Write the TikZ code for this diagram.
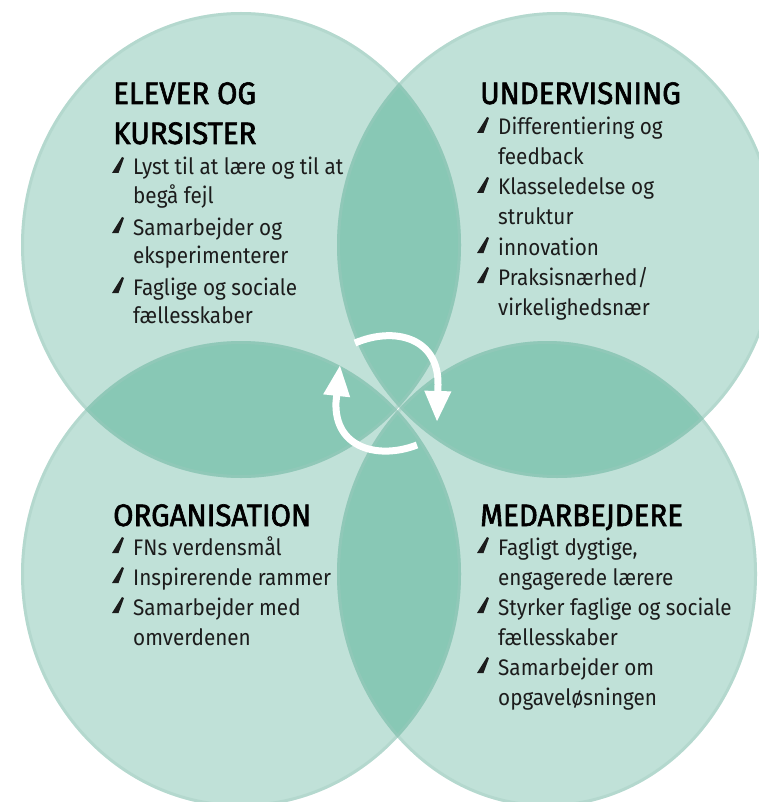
\documentclass[tikz,border=0pt]{standalone}
\usepackage{fontspec}
\setmainfont{Fira Sans}[FakeStretch=0.92]
\newfontfamily\headfont{Fira Sans}[FakeStretch=0.95,FakeBold=2]
\usetikzlibrary{arrows.meta}
\definecolor{lite}{HTML}{C0E1D8}
\definecolor{dark}{HTML}{88C8B5}
\definecolor{rim}{HTML}{9FCABE}
\definecolor{ink}{HTML}{1C1C1C}
\tikzset{
  bodytxt/.style={anchor=base west, inner sep=0pt, text=ink, font=\fontsize{22.5}{27}\selectfont},
  headtxt/.style={anchor=base west, inner sep=0pt, text=black, font=\headfont\fontsize{31}{36}\selectfont},
  bul/.pic={\fill[ink] (0,0) -- (6.5,0) -- (12,-15) -- (10,-16) -- cycle;},
  cyc/.style={draw=white, line width=7pt, -{Triangle[width=25pt,length=31pt]}}
}
\begin{document}
\begin{tikzpicture}[x=1pt,y=-1pt]
\useasboundingbox (0,0) rectangle (759,802);
% circles
\def\ETL{(241,245) ellipse [x radius=220, y radius=233]}
\def\ETR{(557,245) ellipse [x radius=220, y radius=233]}
\def\EBL{(241,574) ellipse [x radius=220, y radius=233]}
\def\EBR{(547,574) ellipse [x radius=210, y radius=233]}
\fill[lite] \ETL; \fill[lite] \ETR; \fill[lite] \EBL; \fill[lite] \EBR;
\begin{scope}\clip \ETL; \fill[dark] \ETR; \fill[dark] \EBL; \end{scope}
\begin{scope}\clip \EBR; \fill[dark] \ETR; \fill[dark] \EBL; \end{scope}
% soft rims
\foreach \e in {\ETL,\ETR,\EBL,\EBR}{
  \begin{scope}\clip \e; \draw[rim, line width=6pt, opacity=0.35] \e; \end{scope}
}
% cycle arrows
\coordinate (a1s) at (355,343);
\coordinate (a1e) at (437,422);
\coordinate (a2s) at (417,445);
\coordinate (a2e) at (340,365);
\draw[cyc] (a1s) .. controls (395,326) and (439,338) .. (438,385) -- (a1e);
\draw[cyc] (a2s) .. controls (378,460) and (334,448) .. (336,402) -- (a2e);
% top left
\node[headtxt] (h1a) at (113,104) {ELEVER OG};
\node[headtxt] (h1b) at (113,144) {KURSISTER};
\foreach \b in {175,235,295}{\pic at (112,\b-2) {bul};}
\node[bodytxt] (t11) at (133,175) {Lyst til at lære og til at};
\node[bodytxt] (t12) at (133,204) {begå fejl};
\node[bodytxt] (t13) at (133,235) {Samarbejder og};
\node[bodytxt] (t14) at (133,263) {eksperimenterer};
\node[bodytxt] (t15) at (133,295) {Faglige og sociale};
\node[bodytxt] (t16) at (133,323) {fællesskaber};
% top right
\node[headtxt] (h2) at (480,104) {UNDERVISNING};
\foreach \b in {135,195,255,285}{\pic at (477,\b-2) {bul};}
\node[bodytxt] (t21) at (498,135) {Differentiering og};
\node[bodytxt] (t22) at (498,165) {feedback};
\node[bodytxt] (t23) at (498,195) {Klasseledelse og};
\node[bodytxt] (t24) at (498,225) {struktur};
\node[bodytxt] (t25) at (498,255) {innovation};
\node[bodytxt] (t26) at (498,285) {Praksisnærhed/};
\node[bodytxt] (t27) at (498,315) {virkelighedsnær};
% bottom left
\node[headtxt] (h3) at (113,526) {ORGANISATION};
\foreach \b in {555,585,615}{\pic at (112,\b-2) {bul};}
\node[bodytxt] (t31) at (133,555) {FNs verdensmål};
\node[bodytxt] (t32) at (133,585) {Inspirerende rammer};
\node[bodytxt] (t33) at (133,615) {Samarbejder med};
\node[bodytxt] (t34) at (133,645) {omverdenen};
% bottom right
\node[headtxt] (h4) at (480,526) {MEDARBEJDERE};
\foreach \b in {555,615,675}{\pic at (477,\b-2) {bul};}
\node[bodytxt] (t41) at (498,555) {Fagligt dygtige,};
\node[bodytxt] (t42) at (498,585) {engagerede lærere};
\node[bodytxt] (t43) at (498,615) {Styrker faglige og sociale};
\node[bodytxt] (t44) at (498,645) {fællesskaber};
\node[bodytxt] (t45) at (498,675) {Samarbejder om};
\node[bodytxt] (t46) at (498,705) {opgaveløsningen};
\end{tikzpicture}
\end{document}
